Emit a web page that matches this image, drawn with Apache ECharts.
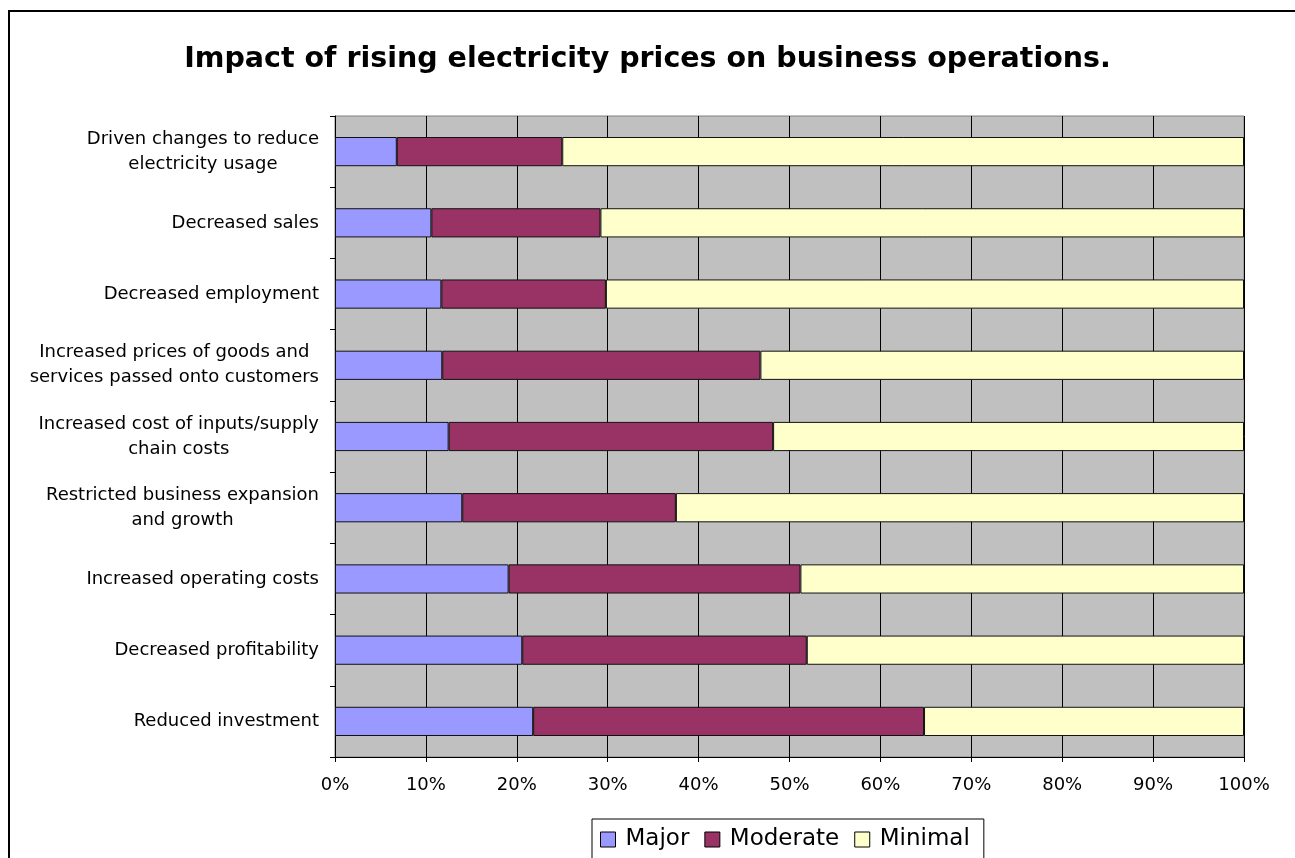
<!DOCTYPE html>
<html>
<head>
<meta charset="utf-8">
<title>Impact of rising electricity prices on business operations</title>
<script src="https://cdn.jsdelivr.net/npm/echarts@6/dist/echarts.min.js"></script>
<style>
  html, body {
    margin: 0;
    padding: 0;
    background: #ffffff;
  }

  #chart {
    width: 1295px;
    height: 858px;
  }
</style>
</head>
<body>
<div id="chart"></div>
<script>
// categories, top to bottom as they appear in the chart
const categories = [
  'Driven changes to reduce\nelectricity usage',
  'Decreased sales',
  'Decreased employment',
  'Increased prices of goods and\nservices passed onto customers',
  'Increased cost of inputs/supply\nchain costs',
  'Restricted business expansion\nand growth',
  'Increased operating costs',
  'Decreased profitability',
  'Reduced investment'
]

// shares in percent
const major = [6.8, 10.6, 11.7, 11.8, 12.5, 14.0, 19.1, 20.6, 21.8]
const moderate = [18.2, 18.6, 18.1, 35.0, 35.7, 23.5, 32.1, 31.3, 43.0]
const minimal = [75.0, 70.8, 70.2, 53.2, 51.8, 62.5, 48.8, 48.1, 35.2]

const seriesNames = ['Major', 'Moderate', 'Minimal']
const seriesColors = ['#9999FF', '#993366', '#FFFFCC']

// the original text is set wide, DejaVu gets closest to its footprint
const FONT = '"DejaVu Sans", "Liberation Sans", Arial, sans-serif'
const TEXT_COLOR = '#000000'

const chart = echarts.init(document.getElementById('chart'), null, { renderer: 'canvas' })

function makeSeries(name, data, color) {
  return {
    name: name,
    type: 'bar',
    stack: 'total',
    barCategoryGap: '59%',
    data: data,
    itemStyle: {
      color: color,
      borderColor: '#111111',
      borderWidth: 1
    },
    emphasis: {
      disabled: true
    }
  }
}

const option = {
  animation: false,
  backgroundColor: '#ffffff',
  textStyle: {
    fontFamily: FONT
  },
  graphic: [
    {
      type: 'rect',
      silent: true,
      shape: { x: 9, y: 11, width: 1400, height: 1000 },
      style: { fill: 'none', stroke: '#000000', lineWidth: 2 }
    }
  ],
  title: {
    text: 'Impact of rising electricity prices on business operations.',
    left: 'center',
    top: 40,
    textStyle: {
      fontFamily: FONT,
      fontSize: 28.5,
      fontWeight: 'bold',
      color: TEXT_COLOR
    }
  },
  legend: {
    data: seriesNames,
    left: 592,
    top: 819,
    orient: 'horizontal',
    padding: [9, 14, 20, 8],
    itemGap: 15,
    itemWidth: 15,
    itemHeight: 15,
    icon: 'rect',
    borderColor: '#000000',
    borderWidth: 1,
    selectedMode: false,
    itemStyle: {
      borderColor: '#000000',
      borderWidth: 1
    },
    textStyle: {
      fontFamily: FONT,
      fontSize: 23,
      color: TEXT_COLOR,
      padding: [0, 0, 0, 5]
    }
  },
  grid: {
    left: 335,
    right: 51,
    top: 116,
    bottom: 101,
    show: true,
    backgroundColor: '#C0C0C0',
    borderColor: '#808080',
    borderWidth: 1,
    containLabel: false
  },
  xAxis: {
    type: 'value',
    min: 0,
    max: 100,
    interval: 10,
    axisLine: {
      show: true,
      lineStyle: { color: '#000000', width: 1 }
    },
    axisTick: {
      show: true,
      length: 5,
      lineStyle: { color: '#000000' }
    },
    axisLabel: {
      formatter: '{value}%',
      margin: 19,
      fontFamily: FONT,
      fontSize: 18,
      color: TEXT_COLOR
    },
    splitLine: {
      show: true,
      lineStyle: { color: '#000000', width: 1 }
    }
  },
  yAxis: {
    type: 'category',
    inverse: true,
    data: categories,
    axisLine: {
      show: true,
      lineStyle: { color: '#000000', width: 1 }
    },
    axisTick: {
      show: true,
      length: 5,
      lineStyle: { color: '#000000' }
    },
    axisLabel: {
      margin: 16,
      interval: 0,
      align: 'right',
      formatter: value => value.split('\n').map(line => '{c|' + line + '}').join('\n'),
      rich: {
        c: {
          align: 'center',
          fontFamily: FONT,
          fontSize: 18,
          lineHeight: 25,
          color: TEXT_COLOR
        }
      }
    },
    splitLine: { show: false }
  },
  series: [
    makeSeries(seriesNames[0], major, seriesColors[0]),
    makeSeries(seriesNames[1], moderate, seriesColors[1]),
    makeSeries(seriesNames[2], minimal, seriesColors[2])
  ]
}

chart.setOption(option)
</script>
</body>
</html>
